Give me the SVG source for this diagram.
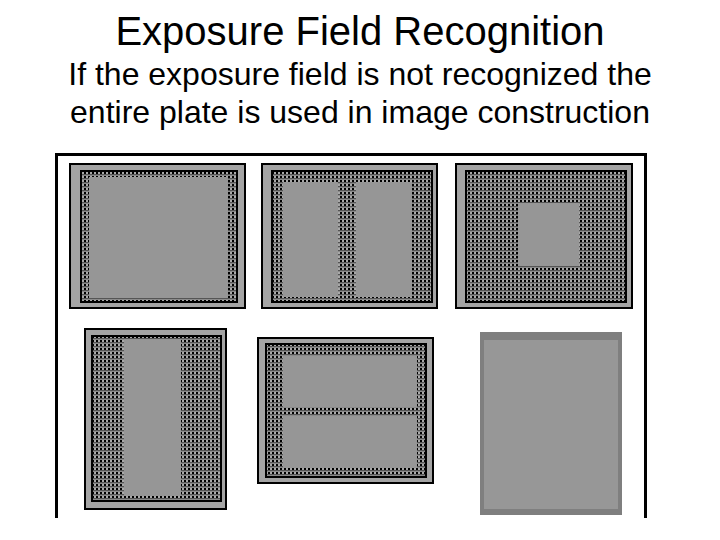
<svg xmlns="http://www.w3.org/2000/svg" width="720" height="540" viewBox="0 0 720 540">
<defs>
<pattern id="chk" x="0" y="0" width="4" height="4" patternUnits="userSpaceOnUse">
<rect width="4" height="4" fill="#555"/>
<rect x="0" y="0" width="2" height="2" fill="#000"/>
<rect x="2" y="0" width="2" height="2" fill="#a8a8a8"/>
<rect x="0" y="3" width="4" height="1" fill="#8a8a8a"/>
</pattern>
</defs>
<style>
.t{font-family:"Liberation Sans",Arial,sans-serif;fill:#000;text-anchor:middle}
.out{fill:#a4a4a4;stroke:#000;stroke-width:2}
.in{fill:url(#chk);stroke:#000;stroke-width:2}
.lt{fill:#969696}
.frame{fill:none;stroke:#000;stroke-width:3}
</style>
<rect width="720" height="540" fill="#fff"/>
<g id="title">
<text class="t" x="360" y="45" font-size="40">Exposure Field Recognition</text>
<text class="t" x="360" y="85" font-size="32">If the exposure field is not recognized the</text>
<text class="t" x="360" y="123" font-size="32">entire plate is used in image construction</text>
</g>
<g id="frame">
<path class="frame" d="M56.5,518 V154.5 H645.5 V518"/>
</g>
<g id="panel1">
<rect class="out" x="70" y="164" width="175" height="144"/>
<rect class="in" x="81" y="171" width="156" height="131"/>
<rect class="lt" x="89" y="177" width="139" height="121"/>
</g>
<g id="panel2">
<rect class="out" x="262" y="164" width="175" height="144"/>
<rect class="in" x="272" y="171" width="160" height="131"/>
<rect class="lt" x="283" y="182" width="55" height="115"/>
<rect class="lt" x="356" y="182" width="56" height="115"/>
</g>
<g id="panel3">
<rect class="out" x="456" y="164" width="176" height="144"/>
<rect class="in" x="466" y="171" width="160" height="131"/>
<rect class="lt" x="518" y="203" width="61" height="63"/>
</g>
<g id="panel4">
<rect class="out" x="85" y="329" width="141" height="180"/>
<rect class="in" x="92" y="336" width="129" height="165"/>
<rect class="lt" x="124" y="339" width="57" height="157"/>
</g>
<g id="panel5">
<rect class="out" x="258" y="338" width="175" height="145"/>
<rect class="in" x="266" y="344" width="160" height="133"/>
<rect class="lt" x="283" y="356" width="134" height="51"/>
<rect class="lt" x="283" y="416" width="134" height="52"/>
</g>
<g id="panel6">
<rect x="480" y="332" width="142" height="183" fill="#7f7f7f"/>
<rect x="484" y="340" width="134" height="169" fill="#979797"/>
</g>
</svg>
